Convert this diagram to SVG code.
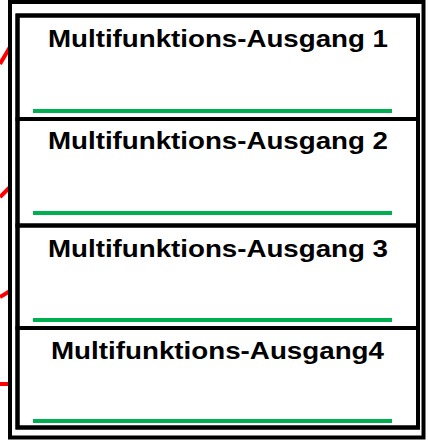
<svg xmlns="http://www.w3.org/2000/svg" width="428" height="441" viewBox="0 0 428 441">
  <style>
    .frame { fill: #ffffff; stroke: #000000; stroke-width: 4; }
    .box { fill: none; stroke: #000000; stroke-width: 4; }
    .label { font-family: "Liberation Sans", Arial, sans-serif; font-weight: bold; font-size: 24px; fill: #000000; text-anchor: middle; }
    .green { stroke: #00B050; stroke-width: 4; }
    .red { stroke: #FF0000; stroke-width: 4; fill: none; }
  </style>
  <rect x="0" y="0" width="428" height="441" fill="#ffffff"/>
  <g id="connectors">
    <line class="red" x1="0" y1="64" x2="10" y2="47"/>
    <line class="red" x1="0" y1="197" x2="10" y2="187"/>
    <line class="red" x1="0" y1="297" x2="10" y2="291"/>
    <line class="red" x1="0" y1="384" x2="10" y2="384"/>
    <line x1="209.5" y1="0" x2="209.5" y2="2" stroke="#4472C4" stroke-width="2"/>
  </g>
  <g id="frame">
    <rect class="frame" x="10" y="2" width="413.5" height="435.5"/>
    <rect class="box" x="17.5" y="15.5" width="400.5" height="412"/>
  </g>
  <g id="ausgang1">
    <rect class="box" x="17.5" y="15.5" width="400.5" height="103.5"/>
    <text class="label" x="218" y="46.5" textLength="340" lengthAdjust="spacingAndGlyphs">Multifunktions-Ausgang 1</text>
    <line class="green" x1="33" y1="111" x2="392" y2="111"/>
  </g>
  <g id="ausgang2">
    <rect class="box" x="17.5" y="119" width="400.5" height="106.5"/>
    <text class="label" x="218" y="149" textLength="340" lengthAdjust="spacingAndGlyphs">Multifunktions-Ausgang 2</text>
    <line class="green" x1="33" y1="213" x2="392" y2="213"/>
  </g>
  <g id="ausgang3">
    <rect class="box" x="17.5" y="225.5" width="400.5" height="102.5"/>
    <text class="label" x="218" y="256.5" textLength="340" lengthAdjust="spacingAndGlyphs">Multifunktions-Ausgang 3</text>
    <line class="green" x1="33" y1="320" x2="392" y2="320"/>
  </g>
  <g id="ausgang4">
    <rect class="box" x="17.5" y="328" width="400.5" height="99.5"/>
    <text class="label" x="217.5" y="358.5" textLength="333" lengthAdjust="spacingAndGlyphs">Multifunktions-Ausgang4</text>
    <line class="green" x1="33" y1="421" x2="392" y2="421"/>
  </g>
</svg>
